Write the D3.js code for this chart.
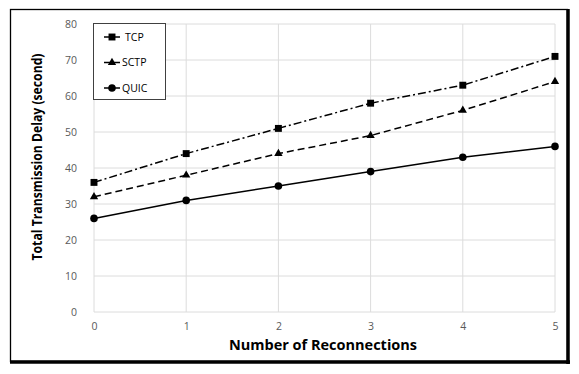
<!DOCTYPE html>
<html>
<head>
<meta charset="utf-8">
<script src="https://cdn.jsdelivr.net/npm/d3@7"></script>
<style>
  body { margin: 0; background: #fff; }
  svg { display: block; font-family: "Open Sans", sans-serif; }
</style>
</head>
<body>
<div id="chart"></div>
<script>
// data
const reconnections = [0, 1, 2, 3, 4, 5]
const tcp = [36, 44, 51, 58, 63, 71]
const sctp = [32, 38, 44, 49, 56, 64]
const quic = [26, 31, 35, 39, 43, 46]
const yTicks = [0, 10, 20, 30, 40, 50, 60, 70, 80]
const seriesNames = ["TCP", "SCTP", "QUIC"]

const width = 579, height = 374
const margin = { top: 24, right: 24, bottom: 62, left: 94 }

const svg = d3.select("#chart").append("svg")
    .attr("width", width)
    .attr("height", height)

// outer frame, heavier on right and bottom
svg.append("rect")
    .attr("x", 10.5).attr("y", 9.5)
    .attr("width", 557).attr("height", 352)
    .attr("fill", "none").attr("stroke", "#000").attr("stroke-width", 1.3)
svg.append("line").attr("x1", 568).attr("x2", 568).attr("y1", 9).attr("y2", 364)
    .attr("stroke", "#000").attr("stroke-width", 3.5)
svg.append("line").attr("x1", 10).attr("x2", 570).attr("y1", 362).attr("y2", 362)
    .attr("stroke", "#000").attr("stroke-width", 3.5)

const x = d3.scaleLinear().domain([0, 5]).range([margin.left, width - margin.right])
const y = d3.scaleLinear().domain([0, 80]).range([height - margin.bottom, margin.top])

// gridlines
svg.append("g").selectAll("line").data(yTicks).join("line")
    .attr("x1", x(0)).attr("x2", x(5))
    .attr("y1", d => y(d)).attr("y2", d => y(d))
    .attr("stroke", "#dcdcdc").attr("stroke-width", 1)
svg.append("g").selectAll("line").data(reconnections).join("line")
    .attr("x1", d => x(d)).attr("x2", d => x(d))
    .attr("y1", y(0)).attr("y2", y(80))
    .attr("stroke", "#dcdcdc").attr("stroke-width", 1)

// axes (labels only)
const xAxis = svg.append("g")
    .attr("transform", `translate(0,${y(0) + 8})`)
    .call(d3.axisBottom(x).tickValues(reconnections).tickFormat(d3.format("d")).tickSize(0))
const yAxis = svg.append("g")
    .attr("transform", `translate(${x(0) - 14},0)`)
    .call(d3.axisLeft(y).tickValues(yTicks).tickSize(0))
;[xAxis, yAxis].forEach(g => {
    g.select(".domain").remove()
    g.selectAll("text").attr("fill", "#595959").style("font-size", "10.5px")
        .style("font-family", "Open Sans, sans-serif")
})

svg.append("text")
    .attr("x", 323).attr("y", 350)
    .attr("text-anchor", "middle")
    .style("font-size", "14.5px").style("font-weight", "bold")
    .text("Number of Reconnections")
svg.append("text")
    .attr("transform", `translate(42,157) rotate(-90)`)
    .attr("text-anchor", "middle")
    .attr("textLength", 207).attr("lengthAdjust", "spacingAndGlyphs")
    .style("font-size", "14px").style("font-weight", "bold")
    .text("Total Transmission Delay (second)")

const line = d3.line().x((d, i) => x(reconnections[i])).y(d => y(d))
const styles = [
    { data: tcp, dash: "8,3,2,3", marker: d3.symbolSquare, size: 48 },
    { data: sctp, dash: "7,4", marker: d3.symbolTriangle, size: 30 },
    { data: quic, dash: null, marker: d3.symbolCircle, size: 45 }
]

styles.forEach(s => {
    svg.append("path").datum(s.data)
        .attr("d", line)
        .attr("fill", "none").attr("stroke", "#000").attr("stroke-width", 1.5)
        .attr("stroke-dasharray", s.dash)
    svg.append("g").selectAll("path").data(s.data).join("path")
        .attr("d", d3.symbol().type(s.marker).size(s.size))
        .attr("transform", (d, i) => `translate(${x(reconnections[i])},${y(d)})`)
        .attr("fill", "#000")
})

// legend
const legend = svg.append("g")
legend.append("rect")
    .attr("x", 93.5).attr("y", 23.5).attr("width", 72).attr("height", 76)
    .attr("fill", "#fff").attr("stroke", "#404040").attr("stroke-width", 1)
seriesNames.forEach((name, i) => {
    const ly = 37 + i * 25.5
    legend.append("line")
        .attr("x1", 104).attr("x2", 120).attr("y1", ly).attr("y2", ly)
        .attr("stroke", "#000").attr("stroke-width", 1.5)
    legend.append("path")
        .attr("d", d3.symbol().type(styles[i].marker).size(styles[i].size)())
        .attr("transform", `translate(112,${ly})`)
    legend.append("text")
        .attr("x", i === 0 ? 125 : 122).attr("y", ly).attr("dy", "0.35em")
        .style("font-size", "10.5px").attr("fill", "#000")
        .text(name)
})
</script>
</body>
</html>
